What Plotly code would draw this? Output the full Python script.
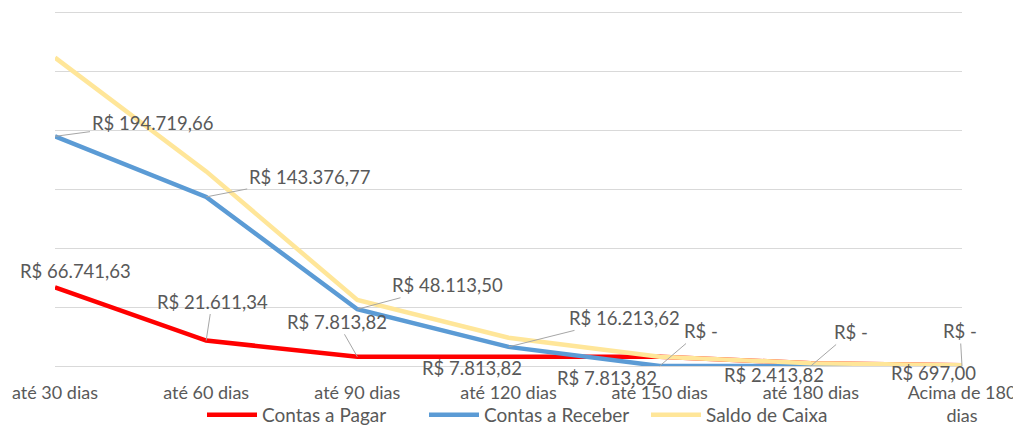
import plotly.graph_objects as go

# dados
categorias = ["até 30 dias", "até 60 dias", "até 90 dias", "até 120 dias",
              "até 150 dias", "até 180 dias", "Acima de 180<br>dias"]
contas_pagar = [66741.63, 21611.34, 7813.82, 7813.82, 7813.82, 2413.82, 697.00]
contas_receber = [194719.66, 143376.77, 48113.50, 16213.62, 0, 0, 0]
saldo_caixa = [261461.29, 164988.11, 55927.32, 24027.44, 7813.82, 2413.82, 697.00]

# posição dos rótulos (deslocamento em px) e se tem linha de chamada
off_receber = [(97, -13), (103, -20), (90, -24), (116, -29), (41, -35), (40, -34), (-2, -35)]
lead_receber = [True, True, True, True, True, True, True]
off_pagar = [(20, -16), (6, -39), (-20, -35), (-37, 11), (-53, 21), (-37, 12), (-29, 8)]
lead_pagar = [False, True, True, False, False, False, False]

FONTE = "Lato"
CINZA = "#595959"


def formata_real(v):
    """Formato R$ brasileiro, zero vira 'R$ -'"""
    if v == 0:
        return "R$ -"
    s = f"{v:,.2f}".replace(",", "X").replace(".", ",").replace("X", ".")
    return "R$ " + s


fig = go.Figure()
fig.add_trace(go.Scatter(x=categorias, y=contas_pagar, mode="lines", name="Contas a Pagar",
                         line=dict(color="#FF0000", width=4.5)))
fig.add_trace(go.Scatter(x=categorias, y=contas_receber, mode="lines", name="Contas a Receber",
                         line=dict(color="#5B9BD5", width=4.5)))
fig.add_trace(go.Scatter(x=categorias, y=saldo_caixa, mode="lines", name="Saldo de Caixa",
                         line=dict(color="#FFE699", width=4.5)))

anotacoes = []
for serie, offs, leads in ((contas_receber, off_receber, lead_receber),
                           (contas_pagar, off_pagar, lead_pagar)):
    for cat, v, (ax, ay), lead in zip(categorias, serie, offs, leads):
        anotacoes.append(dict(
            x=cat, y=v, text=formata_real(v), ax=ax, ay=ay,
            showarrow=True, arrowhead=0, arrowwidth=1,
            arrowcolor="#A6A6A6" if lead else "rgba(0,0,0,0)",
            font=dict(family=FONTE, size=18.5, color=CINZA)))

# a página tem 8px de margem no body, por isso 1013x418
fig.update_layout(
    width=1013, height=418,
    margin=dict(l=47, r=59, t=3, b=60, autoexpand=False),
    paper_bgcolor="white", plot_bgcolor="white",
    font=dict(family=FONTE, size=19, color=CINZA),
    showlegend=True,
    legend=dict(orientation="h", x=(202 - 55) / 907, xanchor="left", y=-0.138, yanchor="middle",
                font=dict(family=FONTE, size=19, color=CINZA),
                itemwidth=50, entrywidth=157, tracegroupgap=0, bgcolor="rgba(0,0,0,0)"),
    annotations=anotacoes,
)
fig.update_xaxes(type="category", range=[0, 6], showgrid=False, zeroline=False,
                 showline=False, ticks="", ticklabelstandoff=14, automargin=False,
                 tickfont=dict(family=FONTE, size=18, color=CINZA))
fig.update_yaxes(range=[0, 301000], tickvals=[0, 50000, 100000, 150000, 200000, 250000, 300000],
                 showgrid=True, gridcolor="#D9D9D9",
                 gridwidth=1, zeroline=True, zerolinecolor="#D9D9D9", zerolinewidth=1,
                 showticklabels=False, automargin=False)

fig.write_html("out.html")
